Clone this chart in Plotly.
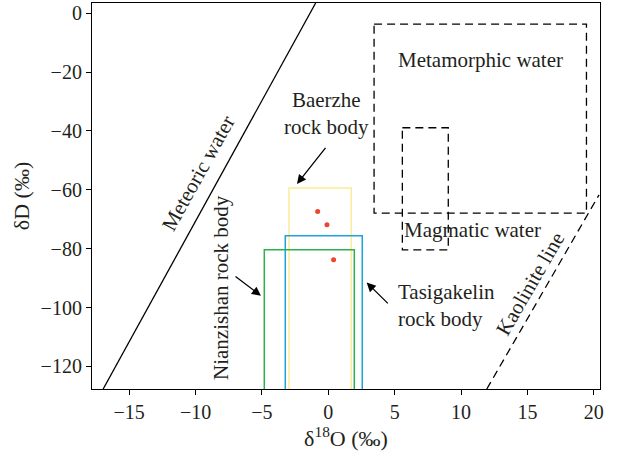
import plotly.graph_objects as go

# ---- data ----
meteoric_x = [-16.96, -0.95]
meteoric_y = [-127.7, 3.5]
kaolinite_x = [11.94, 20.4]
kaolinite_y = [-127.7, -61.7]

metamorphic_box = {"x0": 3.45, "x1": 19.45, "y0": -67.9, "y1": -3.7}
magmatic_box = {"x0": 5.58, "x1": 9.04, "y0": -80.4, "y1": -38.9}

box_bottom = -140
baerzhe_box = {"x0": -2.96, "x1": 1.73, "top": -59.4}
tasigakelin_box = {"x0": -3.24, "x1": 2.56, "top": -75.6}
nianzishan_box = {"x0": -4.82, "x1": 1.96, "top": -80.4}

sample_d18o = [-0.8, -0.1, 0.4]
sample_dD = [-67.4, -71.9, -83.8]

x_ticks = [-15, -10, -5, 0, 5, 10, 15, 20]
y_ticks = [0, -20, -40, -60, -80, -100, -120]

FONT = "Liberation Serif"
fig = go.Figure()

def open_box(b, color):
    fig.add_trace(go.Scatter(
        x=[b["x0"], b["x0"], b["x1"], b["x1"]],
        y=[box_bottom, b["top"], b["top"], box_bottom],
        mode="lines", line=dict(color=color, width=1.5), hoverinfo="skip"))

def dashed_box(b):
    fig.add_trace(go.Scatter(
        x=[b["x0"], b["x1"], b["x1"], b["x0"], b["x0"]],
        y=[b["y1"], b["y1"], b["y0"], b["y0"], b["y1"]],
        mode="lines", line=dict(color="black", width=1.3, dash="8px,5px"), hoverinfo="skip"))

fig.add_trace(go.Scatter(x=meteoric_x, y=meteoric_y, mode="lines",
                         line=dict(color="black", width=1.3)))
fig.add_trace(go.Scatter(x=kaolinite_x, y=kaolinite_y, mode="lines",
                         line=dict(color="black", width=1.3, dash="8px,5px")))
dashed_box(metamorphic_box)
dashed_box(magmatic_box)
open_box(baerzhe_box, "#FCEB9A")
open_box(tasigakelin_box, "#1AA3DE")
open_box(nianzishan_box, "#2BB24C")
fig.add_trace(go.Scatter(x=sample_d18o, y=sample_dD, mode="markers",
                         marker=dict(color="#EE4431", size=5)))

tf = dict(family=FONT, size=21, color="#231F20")
ann = []
ann.append(dict(x=-9.8, y=-54.2, text="Meteoric water", textangle=-61, showarrow=False, font=tf))
ann.append(dict(x=15.2, y=-92.0, text="Kaolinite line", textangle=-60, showarrow=False, font=tf))
ann.append(dict(x=11.5, y=-15.9, text="Metamorphic water", showarrow=False, font=tf))
ann.append(dict(x=10.83, y=-73.6, text="Magmatic water", showarrow=False, font=tf))
ann.append(dict(x=-0.1, y=-33.9, text="Baerzhe<br>rock body", showarrow=False, font=tf))
ann.append(dict(x=5.11, y=-99.4, text="Tasigakelin<br>rock body", showarrow=False, font=tf,
                xanchor="left", align="left"))
ann.append(dict(x=-8.07, y=-93.3, text="Nianzishan rock body", textangle=-90, showarrow=False, font=tf))
arrows = [(-2.36, -58.0, -0.12, -45.2), (-5.07, -96.0, -7.1, -89.1), (2.89, -91.5, 4.6, -99.1)]
for hx, hy, tx, ty in arrows:
    ann.append(dict(x=hx, y=hy, ax=tx, ay=ty, axref="x", ayref="y", text="", showarrow=True,
                    arrowhead=2, arrowsize=1.4, arrowwidth=1.3, arrowcolor="black"))

fig.update_layout(
    width=621, height=458, showlegend=False,
    margin=dict(l=92, r=21, t=3, b=69),
    paper_bgcolor="white", plot_bgcolor="white",
    font=dict(family=FONT, size=20, color="#231F20"),
    annotations=ann,
)
fig.update_xaxes(range=[-17.8, 20.47], tickvals=x_ticks, ticktext=[str(v).replace("-", "−") for v in x_ticks],
                 showgrid=False, zeroline=False, showline=True, linecolor="black", linewidth=1.2,
                 mirror=True, ticks="outside", ticklen=5, tickcolor="black",
                 title=dict(text="δ<sup>18</sup>O (‰)", standoff=6, font=dict(family=FONT, size=22)))
fig.update_yaxes(range=[-127.7, 3.5], tickvals=y_ticks, ticktext=[str(v).replace("-", "−") for v in y_ticks],
                 showgrid=False, zeroline=False, showline=True, linecolor="black", linewidth=1.2,
                 mirror=True, ticks="outside", ticklen=5, tickcolor="black",
                 title=dict(text="δD (‰)", standoff=4, font=dict(family=FONT, size=22)))

fig.write_html("out.html")
